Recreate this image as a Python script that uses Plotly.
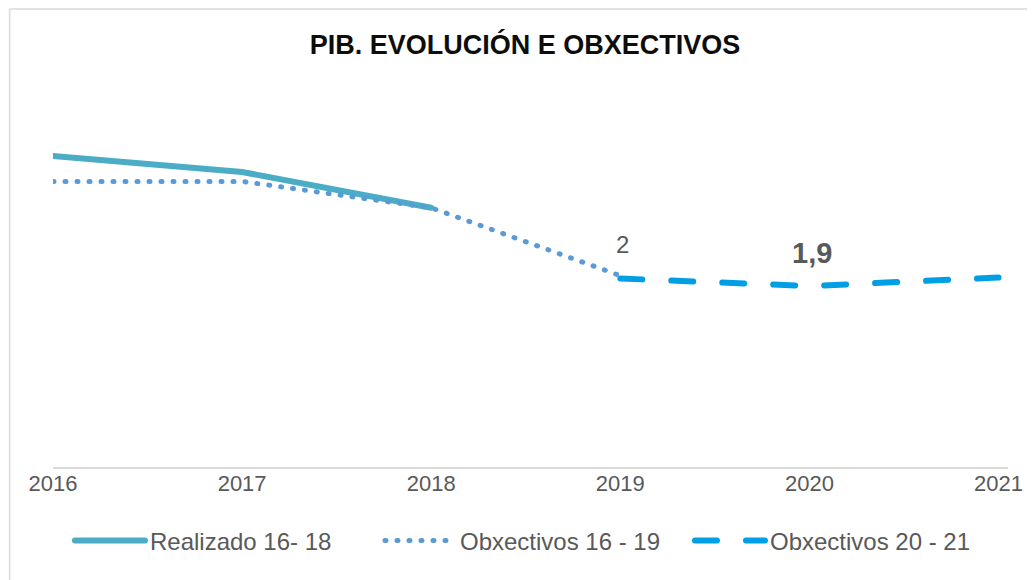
import plotly.graph_objects as go

# ---- data ----
years_real = [2016, 2017, 2018]
realizado = [3.3, 3.13, 2.75]

years_obj1 = [2016, 2017, 2018, 2019]
obj_16_19 = [3.03, 3.03, 2.75, 2.03]

years_obj2 = [2019, 2020, 2021]
obj_20_21 = [2.0, 1.92, 2.01]

tick_years = [2016, 2017, 2018, 2019, 2020, 2021]

FONT = "Liberation Sans, Arial, sans-serif"
GRAY = "#595959"

W, H = 1027, 572          # page body has an 8px margin
L, R, T, B = 45, 25, 82, 113
PW, PH = W - L - R, H - T - B

fig = go.Figure()
fig.add_trace(go.Scatter(
    x=years_real, y=realizado, mode="lines", name="Realizado 16- 18",
    line=dict(color="#4BACC6", width=6)))
fig.add_trace(go.Scatter(
    x=years_obj1, y=obj_16_19, mode="lines", name="Obxectivos 16 - 19",
    line=dict(color="#5B9BD5", width=5, dash="1px,11px")))
fig.add_trace(go.Scatter(
    x=years_obj2, y=obj_20_21, mode="lines", name="Obxectivos 20 - 21",
    line=dict(color="#009FE3", width=6, dash="22px,29px")))

def fmt(v):
    s = f"{v:.1f}".rstrip("0").rstrip(".")
    return s.replace(".", ",")

# data labels
fig.add_annotation(x=years_obj2[0], y=obj_20_21[0], text=fmt(obj_20_21[0]),
                   showarrow=False, yshift=34, xshift=2,
                   font=dict(family=FONT, size=24, color=GRAY))
fig.add_annotation(x=years_obj2[1], y=obj_20_21[1], text="<b>" + fmt(obj_20_21[1]) + "</b>",
                   showarrow=False, yshift=33, xshift=3,
                   font=dict(family=FONT, size=29, color=GRAY))

# chart border (top + left)
bx = (1.5 - L) / PW
by = 1 + (T - 1) / PH
fig.add_shape(type="line", xref="paper", yref="paper", x0=bx, x1=1.2, y0=by, y1=by,
              line=dict(color="#D9D9D9", width=1.5))
fig.add_shape(type="line", xref="paper", yref="paper", x0=bx, x1=bx, y0=-0.5, y1=by,
              line=dict(color="#D9D9D9", width=1.5))

fig.update_layout(
    width=W, height=H,
    margin=dict(l=L, r=R, t=T, b=B),
    paper_bgcolor="white", plot_bgcolor="white",
    font=dict(family=FONT, color=GRAY),
    title=dict(text="<b>PIB. EVOLUCIÓN E OBXECTIVOS</b>", x=517/W, xanchor="center",
               y=1 - 37/H, yanchor="middle",
               font=dict(family=FONT, size=27, color="#0D0D0D")),
    xaxis=dict(range=[2016, 2021.05], tickvals=tick_years, ticktext=[str(y) for y in tick_years],
               showgrid=False, zeroline=False, showline=True, linecolor="#D9D9D9", linewidth=1.5,
               ticks="", tickfont=dict(family=FONT, size=22, color=GRAY), ticklabelstandoff=-4),
    yaxis=dict(range=[0, 4], visible=False),
    showlegend=True,
    legend=dict(orientation="h", x=(62 - L) / PW, xanchor="left", y=-(533 - (T + PH)) / PH,
                yanchor="middle", entrywidth=225, entrywidthmode="pixels",
                font=dict(family=FONT, size=24, color=GRAY), itemwidth=70,
                bgcolor="rgba(0,0,0,0)"),
)

post = """
var gd = document.getElementsByClassName('plotly-graph-div')[0];
function rc(){ gd.querySelectorAll('path.js-line').forEach(function(p){ p.style.strokeLinecap='round'; }); }
rc(); gd.on('plotly_afterplot', rc);
"""
fig.write_html("out.html", post_script=post)
